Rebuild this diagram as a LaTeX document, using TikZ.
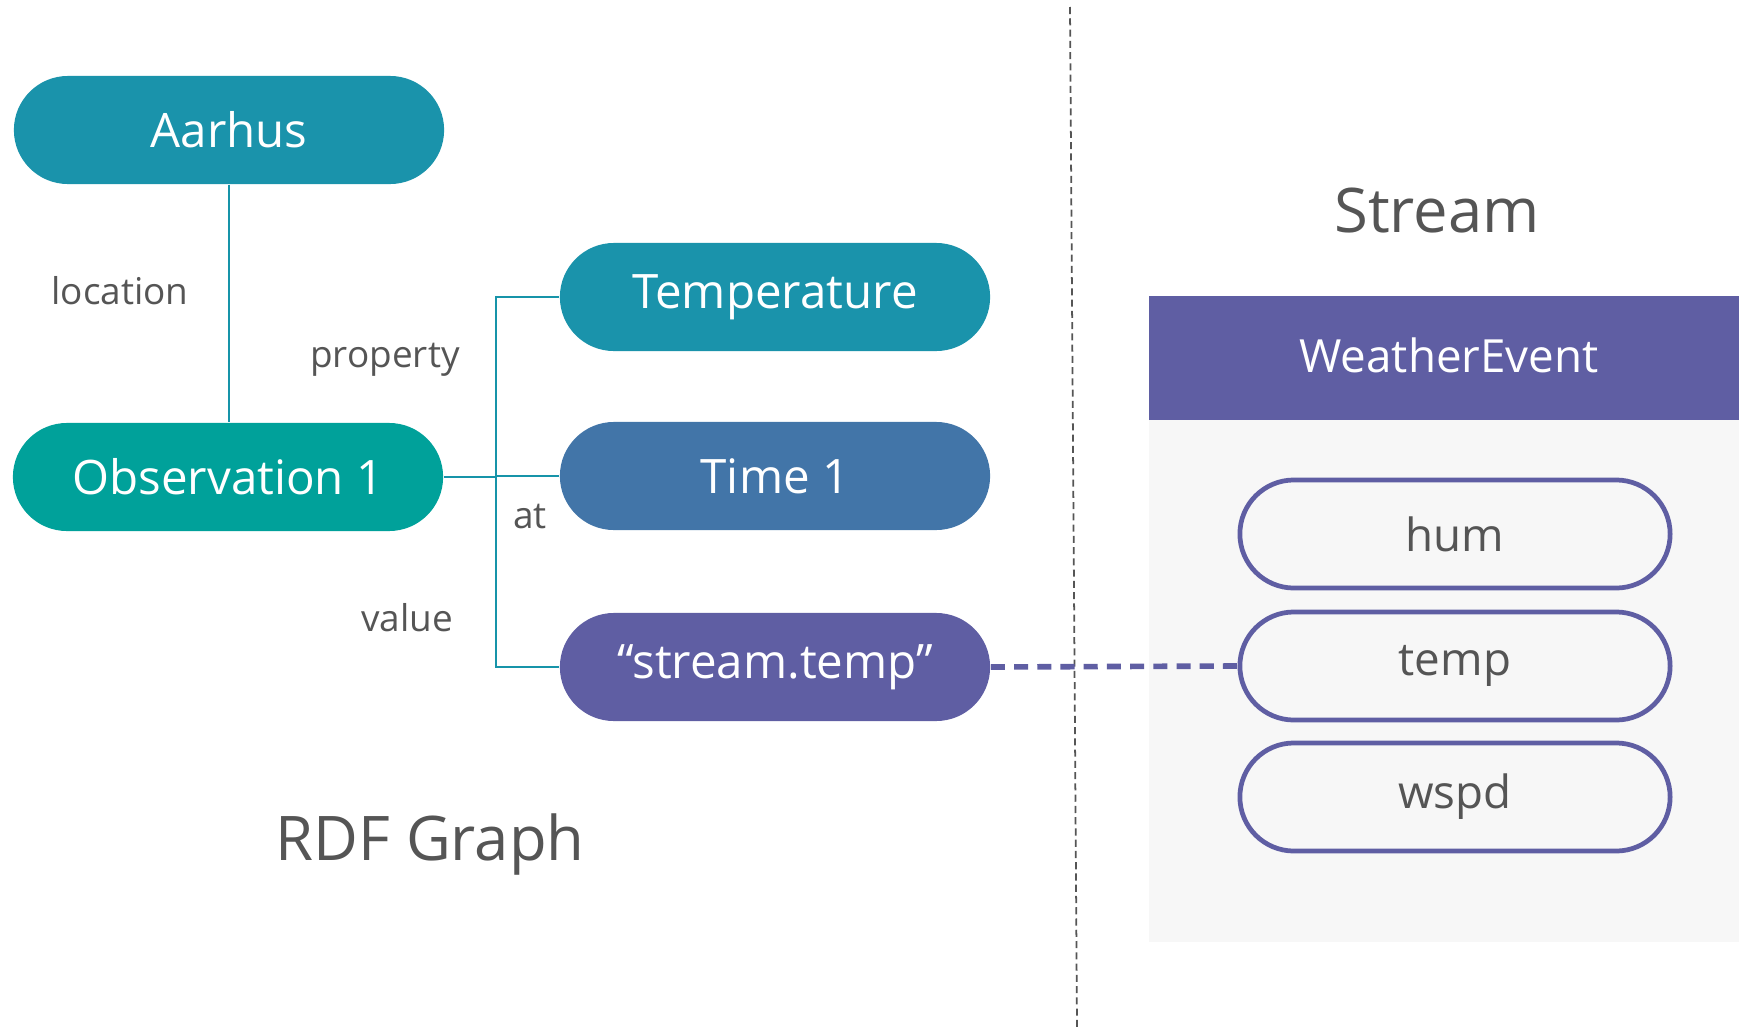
\documentclass[tikz,border=0pt]{standalone}
\usepackage{fontspec}
\setmainfont{Open Sans}
\usetikzlibrary{shapes.misc}

\definecolor{cityblue}{HTML}{1A93AB}
\definecolor{obsgreen}{HTML}{00A19A}
\definecolor{timeblue}{HTML}{4275A8}
\definecolor{streampurple}{HTML}{5F5EA3}
\definecolor{labelgray}{HTML}{555555}
\definecolor{panelgray}{HTML}{F7F7F7}

\begin{document}
\begin{tikzpicture}
[
    x=0.01cm, y=-0.01cm,
    pill/.style={rounded rectangle, minimum width=4.3cm, minimum height=1.08cm,
        inner sep=0pt, text=white, font=\fontsize{13.5}{16}\selectfont},
    field/.style={rounded rectangle, draw=streampurple, line width=1.35pt, fill=panelgray,
        minimum width=4.3cm, minimum height=1.08cm, inner sep=0pt,
        text=labelgray, font=\fontsize{13}{16}\selectfont},
    edgelabel/.style={text=labelgray, font=\fontsize{10.5}{13}\selectfont},
    title/.style={text=labelgray, font=\fontsize{17.5}{21}\selectfont},
    link/.style={draw=cityblue!90!obsgreen, line width=0.4pt},
    bind/.style={draw=streampurple, line width=1.6pt, dash pattern=on 4pt off 2.6pt},
]
\useasboundingbox (0,0) rectangle (1739,1027);

% rdf graph
\node [pill, fill=cityblue] (aarhus) at (229,130) {Aarhus};
\node [pill, fill=obsgreen] (obs) at (228,477) {Observation 1};
\node [pill, fill=cityblue] (temperature) at (775,297) {Temperature};
\node [pill, fill=timeblue] (time) at (775,476) {Time 1};
\node [pill, fill=streampurple] (value) at (775,667) {“stream.temp”};

\coordinate (fork) at (496,477);
\draw [link] (aarhus.south) -- (aarhus.south |- obs.north);
\draw [link] (obs.east) -- (fork) |- (temperature.west);
\draw [link] (fork) |- (time.west);
\draw [link] (fork) |- (value.west);

\node [edgelabel] (location) at (120,291) {location};
\node [edgelabel] (property) at (385,360) {property};
\node [edgelabel] (at) at (530,517) {at};
\node [edgelabel] (valuelabel) at (407,618) {value};
\node [title] (rdf) at (430,845) {RDF Graph};

% separator
\draw [labelgray, line width=0.5pt, dash pattern=on 2pt off 1.2pt] (1070,7) -- (1077,1027);

% stream
\node [title] (stream) at (1437,211) {Stream};
\fill [panelgray] (1149,420) rectangle (1739,942);
\fill [streampurple] (1149,296) rectangle (1739,420);
\node [text=white, font=\fontsize{13}{16}\selectfont] (event) at (1449,355) {WeatherEvent};
\node [field] (hum) at (1455,534) {hum};
\node [field] (temp) at (1455,666) {temp};
\node [field] (wspd) at (1455,797) {wspd};

\draw [bind] (value.east) -- (temp.west);
\end{tikzpicture}
\end{document}
